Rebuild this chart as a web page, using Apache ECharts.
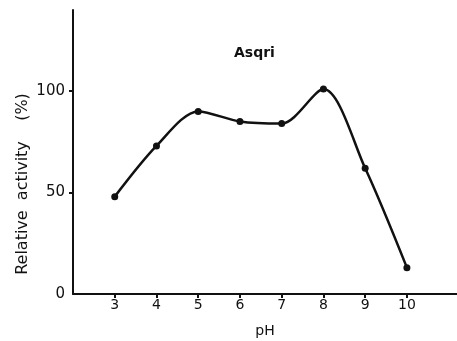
<!DOCTYPE html>
<html>
<head>
<meta charset="utf-8">
<script src="https://cdn.jsdelivr.net/npm/echarts@6/dist/echarts.min.js"></script>
<style>
  html, body { margin: 0; padding: 0; background: #fff; }
  #chart { width: 457px; height: 341px; }
</style>
</head>
<body>
<div id="chart"></div>
<script>
// pH values and relative activity (%)
const phValues = [3, 4, 5, 6, 7, 8, 9, 10];
const activity = [48, 73, 90, 85, 84, 101, 62, 13];
const xTicks = [3, 4, 5, 6, 7, 8, 9, 10];
const yLabels = [0, 50, 100];
const yTicks = [50, 100];

const ink = '#111';
const font = 'DejaVu Sans';

const chart = echarts.init(document.getElementById('chart'));

chart.setOption({
  backgroundColor: '#fff',
  animation: false,
  title: {
    text: 'Asqri',
    left: 229,
    top: 41,
    textStyle: { color: ink, fontFamily: font, fontSize: 14, fontWeight: 'bold' },
  },
  grid: { left: 73, right: 0, top: 10, bottom: 47, containLabel: false, outerBoundsMode: 'none' },
  xAxis: {
    type: 'value',
    min: 2,
    max: 11.2,
    name: 'pH',
    nameLocation: 'middle',
    nameGap: 30,
    nameMoveOverlap: false,
    nameTextStyle: { color: ink, fontFamily: font, fontSize: 14 },
    axisLine: { lineStyle: { color: ink, width: 2 } },
    axisTick: { show: true, length: 4, lineStyle: { color: ink, width: 2 }, customValues: xTicks },
    axisLabel: { color: ink, fontFamily: font, fontSize: 14, margin: 4, customValues: xTicks },
    splitLine: { show: false },
  },
  yAxis: {
    type: 'value',
    min: 0,
    max: 140,
    name: 'Relative  activity    (%)',
    nameLocation: 'middle',
    nameGap: 42,
    nameMoveOverlap: false,
    nameTextStyle: { color: ink, fontFamily: font, fontSize: 16, padding: [0, 64, 0, 0] },
    axisLine: { show: true, lineStyle: { color: ink, width: 2 } },
    axisTick: { show: true, length: 4, lineStyle: { color: ink, width: 2 }, customValues: yTicks },
    axisLabel: { color: ink, fontFamily: font, fontSize: 15, margin: 8, customValues: yLabels },
    splitLine: { show: false },
  },
  series: [
    {
      type: 'line',
      data: phValues.map((p, i) => [p, activity[i]]),
      smooth: 0.3,
      symbol: 'circle',
      symbolSize: 7,
      itemStyle: { color: ink },
      lineStyle: { color: ink, width: 2.5 },
    },
  ],
});
</script>
</body>
</html>
